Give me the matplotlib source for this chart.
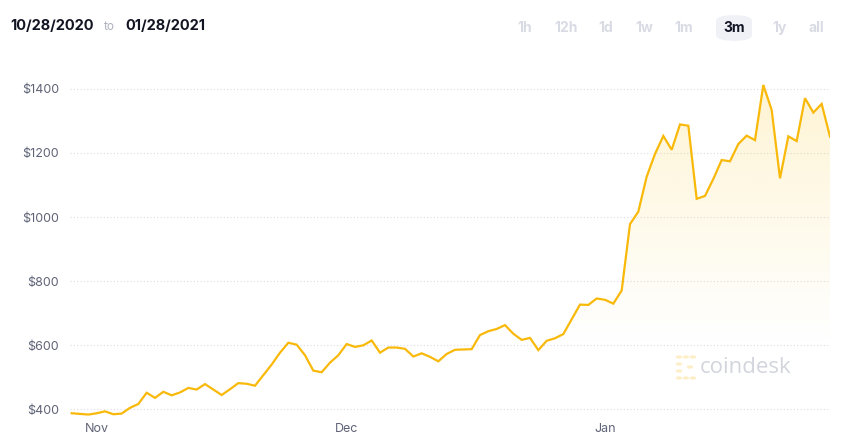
import numpy as np
import pandas as pd
import matplotlib
matplotlib.use("Agg")
import matplotlib.pyplot as plt
import matplotlib.dates as mdates
from matplotlib.patches import FancyBboxPatch, Circle

# ---------------- data ----------------
start_date = "2020-10-29"
end_date = "2021-01-28"
prices = [
    388, 386, 384, 388, 394, 385, 387, 405, 417, 452,
    436, 455, 444, 453, 467, 462, 479, 462, 445, 463,
    482, 480, 474, 507, 540, 577, 608, 602, 569, 521,
    516, 546, 569, 604, 595, 600, 615, 577, 593, 593,
    589, 565, 575, 564, 550, 573, 586, 587, 588, 632,
    644, 651, 663, 636, 617, 623, 585, 614, 622, 635,
    681, 727, 726, 746, 742, 730, 771, 978, 1017, 1126,
    1197, 1253, 1210, 1289, 1285, 1057, 1066, 1119, 1178, 1174,
    1228, 1254, 1240, 1412, 1334, 1121, 1252, 1237, 1371, 1326,
    1353, 1251,
]
y_ticks = [400, 600, 800, 1000, 1200, 1400]
month_ticks = ["2020-11-01", "2020-12-01", "2021-01-01"]
month_labels = ["Nov", "Dec", "Jan"]
range_buttons = ["1h", "12h", "1d", "1w", "1m", "3m", "1y", "all"]
active_button = "3m"
header_from = "10/28/2020"
header_to = "01/28/2021"

dates = pd.date_range(start_date, end_date, freq="D")
xs = mdates.date2num(dates.to_pydatetime())
prices = np.array(prices, dtype=float)

# ---------------- figure ----------------
plt.rcParams["font.family"] = ["Inter", "DejaVu Sans"]
W, H = 845, 444
fig = plt.figure(figsize=(W / 100, H / 100), dpi=100)
fig.patch.set_facecolor("white")

def fx(px):
    return px / W

def fy(py):
    return 1 - py / H

ax_left, ax_right, ax_top, ax_bot = 70, 830, 60, 420
ax = fig.add_axes([fx(ax_left), fy(ax_bot), (ax_right - ax_left) / W, (ax_bot - ax_top) / H])
ax.set_facecolor("white")

line_color = "#f9b90a"
ax.plot(xs, prices, color=line_color, lw=1.6, zorder=3, solid_joinstyle="miter")

ymin, ymax = 367, 1490
xmin = xs[0] - 0.2
xmax = xs[-1]
ax.set_xlim(xmin, xmax)
ax.set_ylim(ymin, ymax)

# gradient fill under the line
poly = ax.fill_between(xs, prices, ymin, color="none", lw=0)
grad_h = 256
alpha = np.linspace(0.0, 1.0, grad_h)  # bottom -> top
top_val = prices.max()
vals = np.linspace(ymin, ymax, grad_h)
a = np.clip((vals - 600) / (top_val - 600), 0, 1) * 0.2
img = np.zeros((grad_h, 2, 4))
img[..., 0] = 251 / 255
img[..., 1] = 200 / 255
img[..., 2] = 40 / 255
img[..., 3] = a[:, None]
im = ax.imshow(img, extent=[xmin, xmax, ymin, ymax], origin="lower", aspect="auto", zorder=1,
               interpolation="bilinear")
im.set_clip_path(poly.get_paths()[0], transform=ax.transData)

# grid
for v in y_ticks:
    ax.axhline(v, color="#dcdde6", lw=0.8, ls=(0, (1, 2)), zorder=0.5)

ax.set_yticks(y_ticks)
ax.set_yticklabels([f"${v}" for v in y_ticks])
ax.set_xticks(mdates.date2num(pd.to_datetime(month_ticks).to_pydatetime()))
ax.set_xticklabels(month_labels)
ax.tick_params(axis="both", length=0, labelsize=9, colors="#5f6377")
ax.tick_params(axis="y", pad=8)
ax.tick_params(axis="x", pad=2)
for s in ax.spines.values():
    s.set_visible(False)

# watermark
fig.text(fx(700), fy(367), "coindesk", fontsize=16, color="#d3d5dd", va="center", ha="left",
         family=["Open Sans", "DejaVu Sans"])
icon_color = "#fcefc8"
for (cx, cy) in [(679, 357), (686, 357), (693, 357), (679, 364), (679, 371), (679, 378),
                 (686, 378), (693, 378), (690, 367)]:
    fig.patches.append(Circle((fx(cx), fy(cy)), 3.2 / W, transform=fig.transFigure,
                              facecolor=icon_color, edgecolor="none"))

# header
fig.text(fx(10), fy(26), header_from, fontsize=10.5, weight="bold", color="#121522", va="center")
fig.text(fx(104), fy(27), "to", fontsize=8.5, color="#aeb1bd", va="center")
fig.text(fx(125), fy(26), header_to, fontsize=10.5, weight="bold", color="#121522", va="center")

btn_x = [525, 566, 606, 644, 684, 734, 780, 816]
for lbl, bx in zip(range_buttons, btn_x):
    if lbl == active_button:
        fig.patches.append(FancyBboxPatch((fx(716), fy(41)), (752 - 716) / W, (41 - 15) / H,
                                          boxstyle="round,pad=0,rounding_size=0.025",
                                          transform=fig.transFigure, facecolor="#eff1f7",
                                          edgecolor="none", mutation_aspect=H / W))
        fig.text(fx(bx), fy(28), lbl, fontsize=10, weight="bold", color="#121522",
                 ha="center", va="center")
    else:
        fig.text(fx(bx), fy(28), lbl, fontsize=10, weight="bold", color="#d9dbe4",
                 ha="center", va="center")

fig.savefig("out.png", dpi=100, facecolor="white")
